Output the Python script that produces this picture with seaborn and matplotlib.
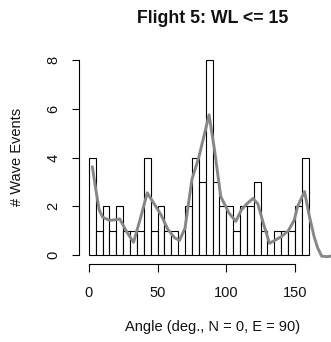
import numpy as np
import pandas as pd
import matplotlib
matplotlib.use("Agg")
import matplotlib.pyplot as plt
import seaborn as sns

# Histogram of wave-event angles, 5-degree bins from 0 to 160
bin_starts = list(range(0, 160, 5))
counts = [4, 1, 2, 1, 2, 1, 1, 1, 4, 1, 2, 1, 1, 0, 2, 4,
          3, 8, 3, 2, 2, 1, 2, 2, 3, 1, 0, 1, 1, 1, 2, 4]

# Smoothed density, scaled to counts per bin
curve_angle = [2.5, 5, 7.5, 10, 15, 20, 22.5, 27, 32.5, 37.5, 42.5, 47.5,
               52.5, 57.5, 62.5, 66, 70, 75, 80, 87.5, 91.5, 96, 102, 107,
               111, 115, 119.5, 123, 127, 131.5, 136, 140, 145, 149.5, 152,
               157, 160.5, 164, 166.5, 169.5, 174, 180]
curve_value = [3.62, 2.7, 1.85, 1.55, 1.42, 1.45, 1.48, 1.0, 0.52, 1.5, 2.55,
               2.1, 1.65, 1.05, 0.7, 0.6, 1.1, 3.1, 4.0, 5.75, 4.3, 2.4, 1.72,
               1.38, 1.85, 2.1, 2.32, 2.1, 1.3, 0.48, 0.62, 0.75, 0.98, 1.43,
               2.0, 2.6, 1.6, 0.75, 0.3, -0.05, -0.07, 0.0]

title = "Flight 5: WL <= 15"
x_label = "Angle (deg., N = 0, E = 90)"
y_label = "# Wave Events"
x_ticks = [0, 50, 100, 150]
y_ticks = [0, 2, 4, 6, 8]

sns.set_style("white")
plt.rcParams["font.family"] = ["Liberation Sans", "DejaVu Sans"]

W, H = 331, 342
fig = plt.figure(figsize=(W / 100, H / 100), dpi=100)
ax = fig.add_axes([79 / W, 1 - 264 / H, (346 - 79) / W, (264 - 52) / H])

mids = [s + 2.5 for s in bin_starts]
edges = bin_starts + [bin_starts[-1] + 5]
hist_df = pd.DataFrame({"angle": mids, "n": counts})
sns.histplot(data=hist_df, x="angle", weights="n", bins=edges,
             color="white", edgecolor="black", linewidth=0.8, alpha=1,
             ax=ax)

curve_df = pd.DataFrame({"angle": curve_angle, "value": curve_value})
sns.lineplot(data=curve_df, x="angle", y="value", color="#878787",
             linewidth=2.1, ax=ax, sort=False)

ax.set_xlim(-7.2, 187.2)
ax.set_ylim(-0.37, 8.33)
ax.set_xticks(x_ticks)
ax.set_yticks(y_ticks)
ax.set_xlabel("")
ax.set_ylabel("")

for side in ["top", "right"]:
    ax.spines[side].set_visible(False)
ax.spines["left"].set_bounds(0, 8)
ax.spines["bottom"].set_bounds(0, 150)
for side in ["left", "bottom"]:
    ax.spines[side].set_linewidth(0.8)
    ax.spines[side].set_color("black")

ax.tick_params(axis="both", direction="out", length=5.4, width=0.8,
               color="black", labelsize=10.5, labelcolor="#111111")
ax.tick_params(axis="y", pad=8, labelrotation=90, left=True)
ax.tick_params(axis="x", pad=10.2, bottom=True)
for lab in ax.get_yticklabels():
    lab.set_va("center")

fig.text(212.7 / W, 1 - 22.7 / H, title, ha="center", va="baseline",
         fontsize=12.8, fontweight="bold", color="#111111")
fig.text(212.7 / W, 1 - 327 / H, x_label, ha="center", va="center",
         fontsize=10.5, color="#111111")
fig.text(17 / W, 1 - 157 / H, y_label, ha="center", va="center",
         rotation=90, fontsize=10.5, color="#111111")

fig.savefig("out.png", dpi=100)
